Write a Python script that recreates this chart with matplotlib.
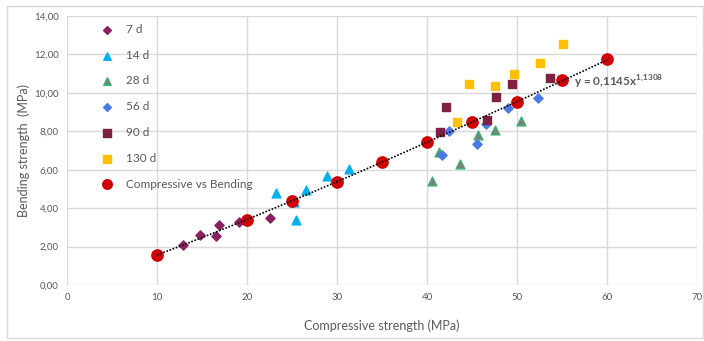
import numpy as np
import matplotlib.pyplot as plt
from matplotlib.patches import Rectangle
from matplotlib.ticker import FuncFormatter

# data (compressive, bending) in MPa
x_7d = [12.9, 14.8, 16.6, 16.9, 19.1, 22.6]
y_7d = [2.08, 2.62, 2.55, 3.15, 3.28, 3.48]

x_14d = [23.2, 25.2, 25.4, 26.5, 28.9, 31.3]
y_14d = [4.77, 4.30, 3.39, 4.95, 5.68, 6.04]

x_28d = [40.6, 41.3, 43.7, 45.7, 47.5, 50.4]
y_28d = [5.42, 6.93, 6.28, 7.80, 8.06, 8.54]

x_56d = [41.7, 42.4, 45.6, 46.5, 49.0, 52.3]
y_56d = [6.77, 8.02, 7.34, 8.36, 9.19, 9.71]

x_90d = [41.4, 42.1, 46.7, 47.7, 49.4, 53.7]
y_90d = [7.97, 9.25, 8.59, 9.79, 10.45, 10.78]

x_130d = [43.3, 44.7, 47.6, 49.7, 52.6, 55.1]
y_130d = [8.51, 10.45, 10.36, 10.96, 11.56, 12.53]

x_cb = [10, 20, 25, 30, 35, 40, 45, 50, 55, 60]
y_cb = [1.58, 3.40, 4.35, 5.35, 6.40, 7.45, 8.50, 9.55, 10.65, 11.75]

eq_label = "y = 0,1145x$^{\\mathregular{1{,}1308}}$"

GRAY = "#595959"
plt.rcParams["font.family"] = ["Lato", "DejaVu Sans"]

fig = plt.figure(figsize=(7.04, 3.41), dpi=100)
ax = fig.add_axes([0.0952, 0.164, 0.895, 0.789])

# outer chart border
fig.patches.append(Rectangle((0.010, 0.009), 0.988, 0.974, transform=fig.transFigure,
                             fill=False, edgecolor="#D9D9D9", linewidth=1.0))

ax.scatter(x_7d, y_7d, marker="D", s=22, color="#8B2060", label="7 d", zorder=3)
ax.scatter(x_14d, y_14d, marker="^", s=40, color="#00B0F0", label="14 d", zorder=3)
ax.scatter(x_28d, y_28d, marker="^", s=40, color="#7F7F7F", edgecolor="#3CB371",
           linewidth=1.0, label="28 d", zorder=3)
ax.scatter(x_56d, y_56d, marker="D", s=22, color="#4A7BE5", label="56 d", zorder=3)
ax.scatter(x_90d, y_90d, marker="s", s=36, color="#7F1F42", label="90 d", zorder=3)
ax.scatter(x_130d, y_130d, marker="s", s=36, color="#FFC000", label="130 d", zorder=3)
ax.scatter(x_cb, y_cb, marker="o", s=66, color="#D00000", label="Compressive vs Bending", zorder=4)

# power trendline fitted to the red points
b, ln_a = np.polyfit(np.log(x_cb), np.log(y_cb), 1)
xt = np.linspace(min(x_cb), max(x_cb), 200)
ax.plot(xt, np.exp(ln_a) * xt ** b, linestyle=(0, (1, 1)), color="black",
        linewidth=1.2, zorder=5)
ax.text(56.3, 10.57, eq_label, fontsize=8.5, fontweight="bold", color=GRAY,
        va="center", ha="left")

ax.set_xlim(0, 70)
ax.set_ylim(0, 14)
ax.set_xticks(range(0, 71, 10))
ax.set_yticks(np.arange(0, 14.1, 2))
ax.yaxis.set_major_formatter(FuncFormatter(lambda v, p: f"{v:.2f}".replace(".", ",")))
ax.tick_params(length=0, labelsize=7, colors=GRAY, pad=6)
ax.grid(True, color="#D9D9D9", linewidth=1.0)
ax.set_axisbelow(True)
for s in ax.spines.values():
    s.set_visible(False)

ax.set_xlabel("Compressive strength (MPa)", fontsize=9, color=GRAY, labelpad=12)
ax.set_ylabel("Bending strength  (MPa)", fontsize=9, color=GRAY, labelpad=3)

leg = ax.legend(loc="upper left", bbox_to_anchor=(0.028, 1.01), frameon=False,
                fontsize=8.5, labelspacing=1.25, handletextpad=0.6,
                scatterpoints=1, markerscale=0.85)
for t in leg.get_texts():
    t.set_color(GRAY)

fig.savefig("out.png", dpi=100)
plt.close(fig)
